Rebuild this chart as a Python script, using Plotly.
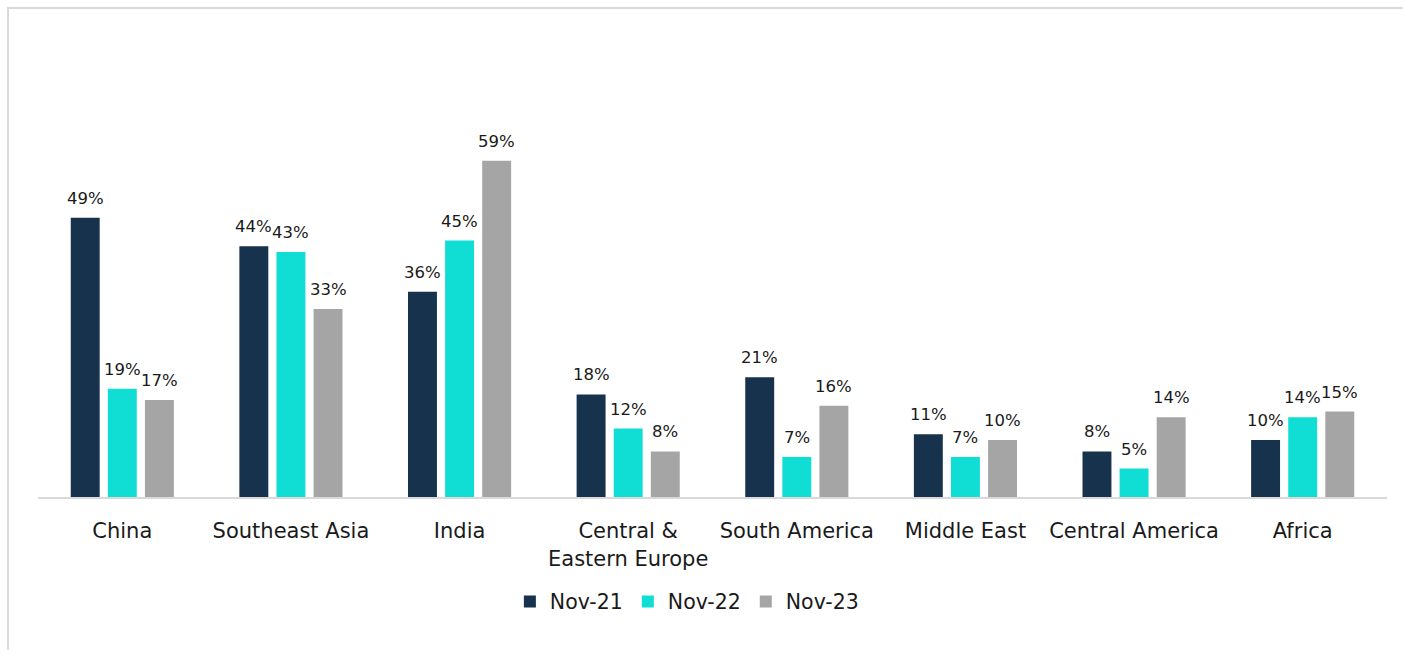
import plotly.graph_objects as go

regions = ["China", "Southeast Asia", "India", "Central &<br>Eastern Europe",
           "South America", "Middle East", "Central America", "Africa"]
series_names = ["Nov-21", "Nov-22", "Nov-23"]
nov21 = [49, 44, 36, 18, 21, 11, 8, 10]
nov22 = [19, 43, 45, 12, 7, 7, 5, 14]
nov23 = [17, 33, 59, 8, 16, 10, 14, 15]
colors = ["#17324D", "#10DDD3", "#A5A5A5"]

W, H = 1405, 654
ML, MR, MT, MB = 38, 18, 98, 157
FONT = "DejaVu Sans"
BARGAP, GROUPGAP = 0.34, 0.22

fig = go.Figure()
all_series = [nov21, nov22, nov23]
for name, vals, col in zip(series_names, all_series, colors):
    fig.add_trace(go.Bar(
        name=name, x=regions, y=vals, marker_color=col,
        marker_line_width=0,
    ))

# value labels above each bar, lifted a little off the bar top
pw, ph = W - ML - MR, H - MT - MB
slot_px = pw / len(regions) * (1 - BARGAP) / len(all_series)
for i, vals in enumerate(all_series):
    for cat, v in zip(regions, vals):
        fig.add_annotation(
            x=cat, y=v, xref="x", yref="y", text=f"{v}%",
            showarrow=False, yanchor="bottom", xanchor="center",
            xshift=(i - 1) * slot_px, yshift=8,
            font=dict(family=FONT, size=16.5, color="#1a1a1a"),
        )


# light frame lines along the top and left of the chart area
def px_x(px):
    return (px - ML) / pw


def px_y(py):
    return (H - MB - py) / ph


frame = dict(color="#D9D9D9", width=2)
fig.add_shape(type="line", xref="paper", yref="paper",
              x0=px_x(7), x1=px_x(1403), y0=px_y(8), y1=px_y(8),
              line=frame, layer="below")
fig.add_shape(type="line", xref="paper", yref="paper",
              x0=px_x(8), x1=px_x(8), y0=px_y(8), y1=px_y(650),
              line=frame, layer="below")

fig.update_layout(
    width=W, height=H,
    margin=dict(l=ML, r=MR, t=MT, b=MB),
    paper_bgcolor="white", plot_bgcolor="white",
    barmode="group", bargap=BARGAP, bargroupgap=GROUPGAP,
    font=dict(family=FONT, size=20, color="#1a1a1a"),
    showlegend=True,
    legend=dict(orientation="h", x=0.481, xanchor="center", y=-0.212, yanchor="top",
                font=dict(family=FONT, size=20.5), traceorder="normal",
                itemwidth=30),
    xaxis=dict(showline=True, linecolor="#D9D9D9", linewidth=2,
               ticks="outside", ticklen=14, tickcolor="white",
               tickfont=dict(family=FONT, size=21), showgrid=False),
    yaxis=dict(range=[0, 70], visible=False, showgrid=False, zeroline=False),
)

fig.write_html("out.html")
